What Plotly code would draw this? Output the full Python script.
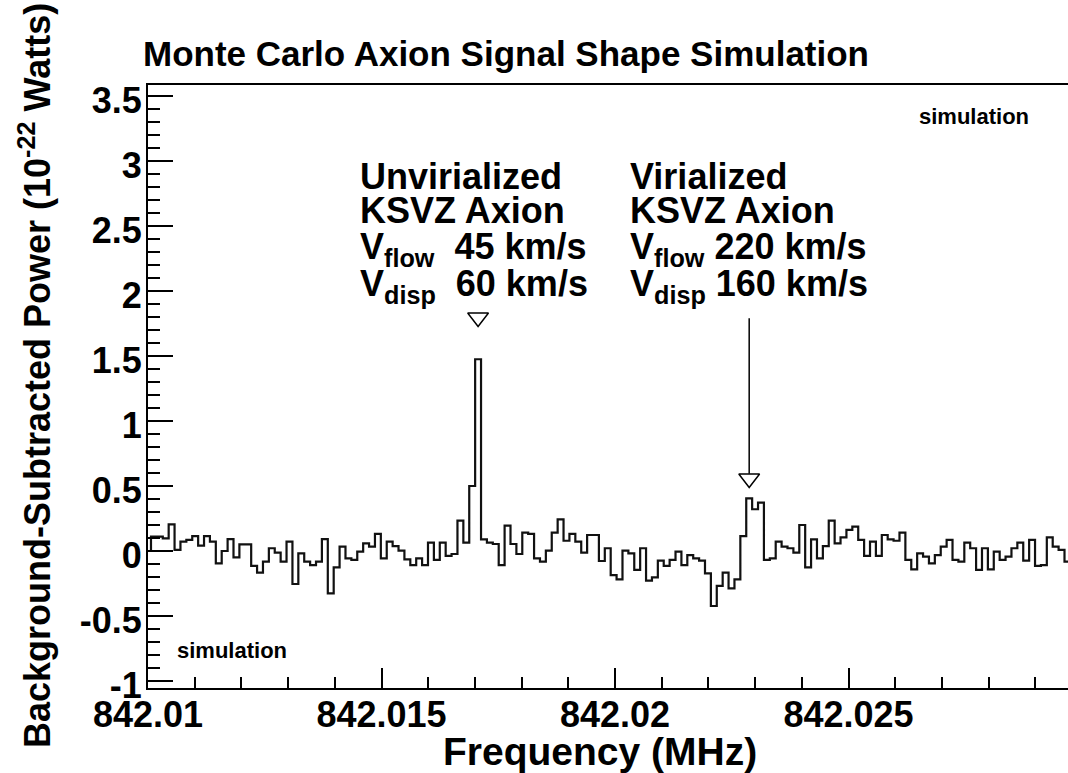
import numpy as np
import plotly.graph_objects as go

# ---------------- data ----------------
bin_start = 842.010064      # MHz, lower edge of first bin
bin_width = 0.0001262       # MHz
power = [
    0.11, 0.11, 0.097, 0.205, 0.008, 0.072, 0.085, 0.115, 0.041, 0.115,
    0.072, -0.095, 0.0, 0.092, -0.049, 0.051, 0.051, -0.115, -0.167, -0.082,
    0.021, -0.013, -0.082, 0.072, -0.254, -0.018, -0.082, -0.108, -0.082, 0.092,
    -0.326, -0.126, 0.033, -0.056, -0.069, -0.005, 0.059, 0.033, 0.131, -0.056,
    0.072, 0.038, 0.003, -0.064, -0.108, -0.056, -0.108, 0.064, -0.069, 0.064,
    -0.038, -0.023, 0.233, 0.064, 0.50, 1.475, 0.09, 0.064, 0.054, -0.108,
    0.195, 0.054, -0.023, 0.141, 0.131, -0.056, -0.082, 0.003, 0.141, 0.244,
    0.079, 0.131, 0.072, -0.013, 0.123, 0.123, -0.077, 0.021, -0.185, -0.218,
    0.003, -0.018, -0.146, 0.021, -0.228, -0.203, -0.074, -0.115, -0.069, -0.005,
    -0.108, -0.031, -0.056, -0.074, -0.172, -0.423, -0.269, -0.167, -0.287, -0.218,
    0.115, 0.405, 0.321, 0.372, -0.069, -0.056, 0.072, 0.033, 0.021, -0.013,
    0.2, -0.126, 0.09, -0.056, 0.038, 0.233, 0.059, 0.105, 0.162, 0.187,
    0.085, -0.038, 0.072, -0.038, 0.123, 0.09, 0.079, 0.141, -0.069, -0.141,
    -0.018, -0.044, -0.095, -0.031, 0.033, 0.085, -0.069, -0.082, 0.064, 0.021,
    -0.146, 0.021, -0.141, -0.005, -0.069, -0.044, 0.021, 0.064, -0.074, 0.085,
    -0.115, -0.108, 0.105, 0.033, 0.008, -0.082,
]
unvir_bin = 55     # bin of the unvirialized signal
vir_bin = 101      # bin of the virialized signal

y_tick_vals = [-1, -0.5, 0, 0.5, 1, 1.5, 2, 2.5, 3, 3.5]
y_tick_text = ["-1", "-0.5", "0", "0.5", "1", "1.5", "2", "2.5", "3", "3.5"]
x_tick_vals = [842.01, 842.015, 842.02, 842.025]
x_tick_text = ["842.01", "842.015", "842.02", "842.025"]

# ---------------- layout geometry ----------------
W, H = 1068, 773
L, R, T, B = 148, 0, 85, 85
PW, PH = W - L - R, H - T - B
x_range = [842.01, 842.0297]
y_range = [-1.054, 3.585]

FONT = "Liberation Sans, Arial, Helvetica, sans-serif"


def px2paper(xp, yp):
    return (xp - L) / PW, (H - B - yp) / PH


edges = bin_start + bin_width * np.arange(len(power) + 1)
xs = [edges[0]] + list(edges[:-1]) + [edges[-1]]
ys = [0.0] + list(power) + [power[-1]]
centers = edges[:-1] + bin_width / 2

fig = go.Figure()
fig.add_trace(go.Scatter(
    x=xs, y=ys, mode="lines", line=dict(color="#111111", width=2.2, shape="hv"),
    hoverinfo="skip", showlegend=False,
))

# markers: open triangles and arrow shaft
fig.add_trace(go.Scatter(
    x=[centers[unvir_bin], centers[vir_bin]], y=[1.796, 0.558], mode="markers",
    marker=dict(symbol="triangle-down-open", size=18, color="black",
                line=dict(width=1.5, color="black")),
    hoverinfo="skip", showlegend=False,
))
fig.add_trace(go.Scatter(
    x=[centers[vir_bin], centers[vir_bin]], y=[1.79, 0.595], mode="lines",
    line=dict(color="black", width=1.5), hoverinfo="skip", showlegend=False,
))

ann = []


def text(s, xp, yp, size, xanchor="left", yanchor="top", angle=0):
    xx, yy = px2paper(xp, yp)
    ann.append(dict(text=s, x=xx, y=yy, xref="paper", yref="paper",
                    xanchor=xanchor, yanchor=yanchor, showarrow=False,
                    textangle=angle,
                    font=dict(family=FONT, size=size, color="black", weight="bold")))


# title
text("Monte Carlo Axion Signal Shape Simulation", 141, 54, 35, yanchor="middle")
# axis titles
text("Frequency (MHz)", 600, 751, 39, xanchor="center", yanchor="middle")
text("Background-Subtracted Power (10<sup>-22</sup> Watts)", 35, 376, 36,
     xanchor="center", yanchor="middle", angle=-90)

# signal labels
left_lines = ["Unvirialized", "KSVZ Axion",
              "V<sub>flow</sub>&nbsp;&nbsp;45 km/s", "V<sub>disp</sub>&nbsp;&nbsp;60 km/s"]
right_lines = ["Virialized", "KSVZ Axion",
               "V<sub>flow</sub>&nbsp;220 km/s", "V<sub>disp</sub>&nbsp;160 km/s"]
baselines = [188, 222, 258, 295]
for s, bl in zip(left_lines, baselines):
    text(s, 358, bl - 34, 36)
for s, bl in zip(right_lines, baselines):
    text(s, 628, bl - 34, 36)

# "simulation" tags
text("simulation", 917, 117, 22, yanchor="middle")
text("simulation", 175, 650, 22, yanchor="middle")

fig.update_layout(
    width=W, height=H,
    margin=dict(l=L, r=R, t=T, b=B, pad=0),
    paper_bgcolor="white", plot_bgcolor="white",
    font=dict(family=FONT, color="black"),
    annotations=ann,
    showlegend=False,
)
fig.update_xaxes(
    range=x_range, showgrid=False, zeroline=False,
    showline=True, linecolor="black", linewidth=2, mirror=True,
    ticks="inside", ticklen=20, tickwidth=1.5, tickcolor="black",
    tickvals=x_tick_vals, ticktext=x_tick_text,
    tickfont=dict(family=FONT, size=36, color="black", weight="bold"),
    minor=dict(ticks="inside", ticklen=11, tickwidth=1.5, tickcolor="black", dtick=0.001,
               tick0=842.01, showgrid=False),
    ticklabelstandoff=-6,
)
fig.update_yaxes(
    range=y_range, showgrid=False, zeroline=False,
    showline=True, linecolor="black", linewidth=2, mirror=False,
    ticks="inside", ticklen=25, tickwidth=1.5, tickcolor="black",
    tickvals=y_tick_vals, ticktext=y_tick_text,
    tickfont=dict(family=FONT, size=36, color="black", weight="bold"),
    minor=dict(ticks="inside", ticklen=12, tickwidth=1.5, tickcolor="black", dtick=0.1,
               tick0=0, showgrid=False),
    ticklabelstandoff=-3,
    ticklabelshift=4,
)

fig.write_html("out.html")
